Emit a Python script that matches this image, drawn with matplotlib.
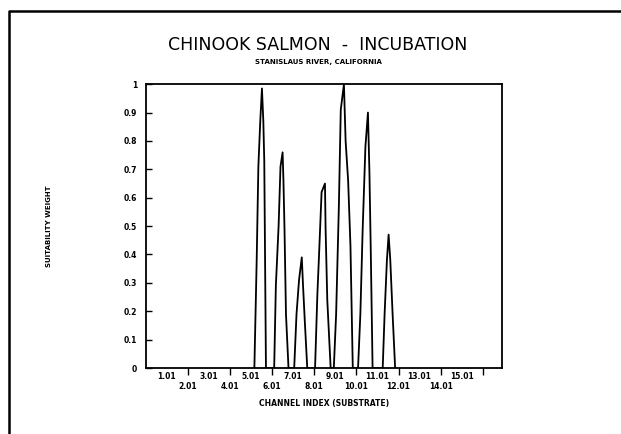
"""
Chinook salmon incubation suitability curve, Stanislaus River.
"""

import matplotlib
matplotlib.use("Agg")
import matplotlib.pyplot as plt
from matplotlib.lines import Line2D
from matplotlib.transforms import blended_transform_factory

# channel index (substrate code) and suitability weight
channel_index = [
    5.16, 5.27, 5.35, 5.44, 5.52, 5.585, 5.63, 5.71,
    6.10, 6.18, 6.31, 6.40, 6.50, 6.54, 6.59, 6.66, 6.78,
    7.05, 7.16, 7.28, 7.41, 7.47, 7.55, 7.67,
    8.04, 8.15, 8.23, 8.35, 8.51, 8.54, 8.62, 8.78,
    8.93, 9.04, 9.17, 9.26, 9.41, 9.49, 9.61, 9.72, 9.83,
    10.08, 10.19, 10.30, 10.43, 10.55, 10.62, 10.68, 10.77,
    11.25, 11.34, 11.45, 11.53, 11.61, 11.72, 11.84,
]
suitability = [
    0.0, 0.38, 0.71, 0.87, 0.985, 0.87, 0.73, 0.0,
    0.0, 0.29, 0.50, 0.71, 0.76, 0.66, 0.49, 0.19, 0.0,
    0.0, 0.19, 0.31, 0.39, 0.29, 0.17, 0.0,
    0.0, 0.26, 0.40, 0.62, 0.65, 0.49, 0.24, 0.0,
    0.0, 0.19, 0.57, 0.91, 1.0, 0.80, 0.66, 0.43, 0.0,
    0.0, 0.19, 0.49, 0.78, 0.90, 0.69, 0.43, 0.0,
    0.0, 0.19, 0.38, 0.47, 0.38, 0.19, 0.0,
]

x_label_pos = list(range(1, 16))
x_labels = ["%d.01" % v for v in x_label_pos]
x_tick_marks = [2, 4, 6, 8, 10, 12, 14, 16]
y_ticks = [0, 0.1, 0.2, 0.3, 0.4, 0.5, 0.6, 0.7, 0.8, 0.9, 1]
y_labels = ["0", "0.1", "0.2", "0.3", "0.4", "0.5", "0.6", "0.7", "0.8", "0.9", "1"]

fig = plt.figure(figsize=(6.21, 4.34), dpi=100)
ax = fig.add_axes([0.2345, 0.152, 0.5735, 0.654])

ax.plot(channel_index, suitability, color="black", linewidth=1.3)

ax.set_xlim(0, 16.9)
ax.set_ylim(0, 1)

ax.set_yticks(y_ticks)
ax.set_yticklabels(y_labels, fontsize=5.5, fontweight="bold")
ax.tick_params(axis="y", direction="in", length=4, width=1, pad=6)

# tick marks at the even codes, labels placed by hand in two staggered rows
ax.set_xticks(x_tick_marks)
ax.set_xticklabels([])
ax.tick_params(axis="x", direction="out", length=5, width=1)

trans = blended_transform_factory(ax.transData, ax.transAxes)
for v, lab in zip(x_label_pos, x_labels):
    y = -0.03 if v % 2 else -0.065
    ax.text(v, y, lab, transform=trans, ha="center", va="center",
            fontsize=5.5, fontweight="bold")

for s in ax.spines.values():
    s.set_linewidth(1.3)

ax.set_xlabel("CHANNEL INDEX (SUBSTRATE)", fontsize=5.5, fontweight="bold", labelpad=14)
ax.set_ylabel("SUITABILITY WEIGHT", fontsize=5, fontweight="bold", labelpad=52)

fig.text(0.512, 0.896, "CHINOOK SALMON  -  INCUBATION", ha="center", va="center",
         fontsize=12.5)
fig.text(0.512, 0.857, "STANISLAUS RIVER, CALIFORNIA", ha="center", va="center",
         fontsize=5, fontweight="bold")

# outer frame from the scanned page (top and left edges only)
fig.add_artist(Line2D([0.0145, 0.0145, 1.0], [0.0, 0.975, 0.975],
                      transform=fig.transFigure, color="black", linewidth=1.8))

plt.savefig("out.png", dpi=100)
plt.close()
